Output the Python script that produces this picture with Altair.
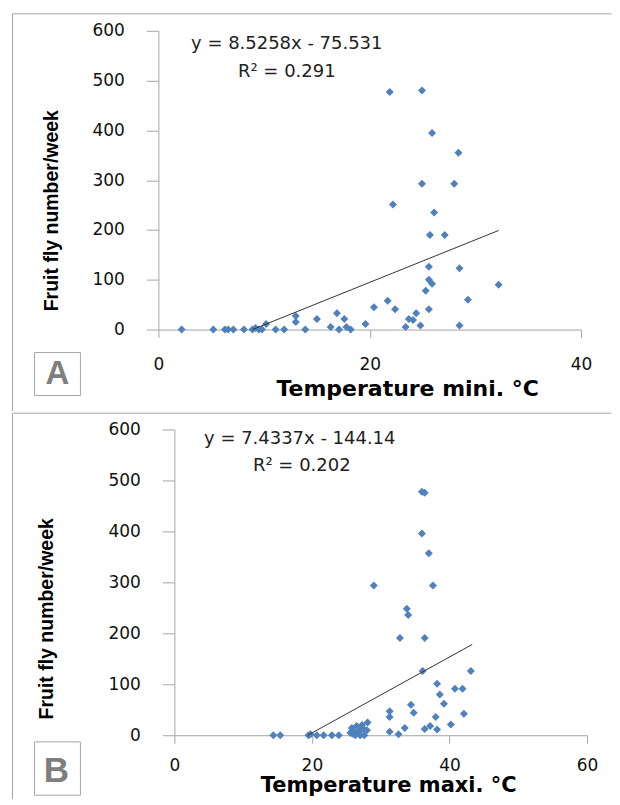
import altair as alt
import pandas as pd

# ---------------- data ----------------
a_temp = [2.2, 5.2, 6.3, 6.6, 7.1, 8.1, 8.9, 9.2, 9.5, 9.8, 10.2, 11.1, 11.9, 13.0, 13.0,
          13.9, 15.0, 16.3, 16.9, 17.1, 17.6, 17.8, 18.2, 19.6, 20.4, 21.7, 21.9, 22.2,
          22.4, 23.4, 23.7, 24.1, 24.4, 24.8, 24.95, 24.95, 25.3, 25.6, 25.6, 25.9, 25.6,
          25.9, 25.7, 26.1, 27.1, 28.0, 28.4, 28.5, 28.5, 29.3, 32.2]
a_flies = [0, 0, 0, 0, 0, 0, 0, 3, 0, 0, 11, 0, 0, 27, 15,
           0, 21, 5, 33, 0, 21, 5, 0, 11, 45, 58, 477, 251,
           41, 5, 21, 19, 33, 8, 480, 293, 78, 126, 100, 92, 41,
           395, 190, 235, 190, 293, 355, 123, 8, 60, 90]

b_temp = [14.4, 15.4, 19.5, 19.8, 20.7, 21.7, 22.9, 23.9, 25.6, 25.8, 25.9, 26.1, 26.3,
          26.5, 26.8, 27.0, 27.0, 27.3, 27.5, 27.6, 28.0, 28.1, 29.0, 31.3, 31.3, 31.3,
          32.6, 32.8, 33.5, 33.8, 34.0, 34.4, 34.8, 36.0, 36.4, 36.0, 36.1, 36.4, 36.4,
          37.0, 37.2, 37.6, 38.0, 38.2, 38.2, 38.6, 39.2, 40.2, 40.8, 41.9, 42.1, 43.1]
b_flies = [0, 0, 0, 2, 0, 0, 0, 0, 5, 14, 3, 8, 0,
           18, 5, 10, 0, 20, 12, 0, 10, 25, 294, 47, 36, 7,
           2, 191, 14, 248, 236, 60, 44, 478, 476, 396, 126, 191, 12,
           357, 18, 294, 36, 101, 11, 80, 62, 21, 91, 91, 42, 126]

a_trend_x = [8.9, 32.2]
a_trend_y = [0, 199]
b_trend_x = [19.4, 43.3]
b_trend_y = [0, 178]

y_ticks = [0, 100, 200, 300, 400, 500, 600]
a_x_ticks = [0, 20, 40]
b_x_ticks = [0, 20, 40, 60]

a_eq, a_r2 = "y = 8.5258x - 75.531", "R\u00b2 = 0.291"
b_eq, b_r2 = "y = 7.4337x - 144.14", "R\u00b2 = 0.202"
y_title = "Fruit fly number/week"
a_xtitle = "Temperature mini. \u00b0C"
b_xtitle = "Temperature maxi. \u00b0C"
a_label, b_label = "A", "B"

GRAY = "#a6a6a6"
BLUE = "#4f81bd"
one = pd.DataFrame({"k": [0]})


def txt(s, x, y, **kw):
    return alt.Chart(pd.DataFrame({"t": [s]})).mark_text(**kw).encode(
        text="t:N", x=alt.value(x), y=alt.value(y))


def hline(x, x2, y):
    return alt.Chart(one).mark_rule(color=GRAY, strokeWidth=1).encode(
        x=alt.value(x), x2=alt.value(x2), y=alt.value(y))


def vline(x, y, y2):
    return alt.Chart(one).mark_rule(color=GRAY, strokeWidth=1).encode(
        x=alt.value(x), y=alt.value(y), y2=alt.value(y2))


def panel(temps, flies, tx, ty, xticks, xmax, eq, r2, xtitle, label, W, H, g):
    sh = g["shift"]
    pts = pd.DataFrame({"x": temps, "y": flies})
    tr = pd.DataFrame({"x": tx, "y": ty})
    xenc = alt.X("x:Q", scale=alt.Scale(domain=[0, xmax], range=[sh, W], nice=False),
                 axis=alt.Axis(values=xticks, title=None, grid=False, domainColor=GRAY,
                               tickColor=GRAY, tickSize=8, labelPadding=g["xpad"],
                               labelFont="DejaVu Sans", labelFontSize=17,
                               labelColor="#111111", labelFlush=False))
    yenc = alt.Y("y:Q", scale=alt.Scale(domain=[0, 600], nice=False),
                 axis=alt.Axis(values=y_ticks, title=None, grid=False, domainColor=GRAY,
                               tickColor=GRAY, tickSize=12, labelPadding=22,
                               labelFont="DejaVu Sans", labelFontSize=17,
                               labelColor="#111111", offset=-sh))
    scatter = alt.Chart(pts).mark_point(shape="diamond", filled=True, size=64,
                                        color=BLUE, opacity=1).encode(x=xenc, y=yenc)
    trend = alt.Chart(tr).mark_line(color="#333333", strokeWidth=1).encode(
        x=alt.X("x:Q"), y=alt.Y("y:Q"))
    layers = [
        hline(g["left"], g["right"], g["top"]),
        vline(g["left"], g["top"], g["bottom"]),
        alt.Chart(one).mark_rect(fill="white", stroke=GRAY, strokeWidth=1).encode(
            x=alt.value(g["box"][0]), x2=alt.value(g["box"][1]),
            y=alt.value(g["box"][2]), y2=alt.value(g["box"][3])),
        txt(label, g["lab"][0], g["lab"][1], font="Liberation Sans", fontSize=g["labsize"],
            fontWeight="bold", color="#7f7f7f", align="center", baseline="middle"),
        scatter,
        trend,
        txt(eq, g["eq"][0], g["eq"][1], font="DejaVu Sans", fontSize=18,
            color="#222222", align="center", baseline="middle"),
        txt(r2, g["r2"][0], g["r2"][1], font="DejaVu Sans", fontSize=18,
            color="#222222", align="center", baseline="middle"),
        txt(y_title, g["yt"][0], g["yt"][1], font="Liberation Sans",
            fontSize=19.5, fontWeight="bold", color="#000000", angle=270,
            align="center", baseline="middle"),
        txt(xtitle, g["xt"][0], g["xt"][1], font="DejaVu Sans", fontSize=g["xtsize"],
            fontWeight="bold", color="#000000", align="center", baseline="alphabetic"),
    ]
    return alt.layer(*layers).properties(width=W, height=H)


# panel A: plot origin at page (158, 30); panel B shares x origin 158, axis shifted 16px
gA = dict(shift=0, left=-146, right=453.5, top=-17, bottom=380.7, xpad=19,
          box=(-124, -78, 322, 365), lab=(-101, 343.5), labsize=33,
          eq=(128.5, 13), r2=(128.5, 41), yt=(-106, 180), xt=(249.5, 365), xtsize=22)
gB = dict(shift=16, left=-146, right=453.5, top=-16.3, bottom=377, xpad=14,
          box=(-124, -78, 312.7, 366), lab=(-102, 342), labsize=35,
          eq=(141.5, 10), r2=(143.5, 37), yt=(-111, 189.5), xt=(230.5, 362.5), xtsize=21)

pA = panel(a_temp, a_flies, a_trend_x, a_trend_y, a_x_ticks, 40, a_eq, a_r2,
           a_xtitle, a_label, 423, 299, gA)
pB = panel(b_temp, b_flies, b_trend_x, b_trend_y, b_x_ticks, 60, b_eq, b_r2,
           b_xtitle, b_label, 429, 306, gB)

chart = alt.vconcat(pA, pB, spacing=0).properties(
    padding={"left": 3.5, "top": 4.5, "right": 0, "bottom": -9},
    background="white",
).configure_view(stroke=None)

chart.save("out.html", embed_options={"renderer": "svg", "actions": False})
